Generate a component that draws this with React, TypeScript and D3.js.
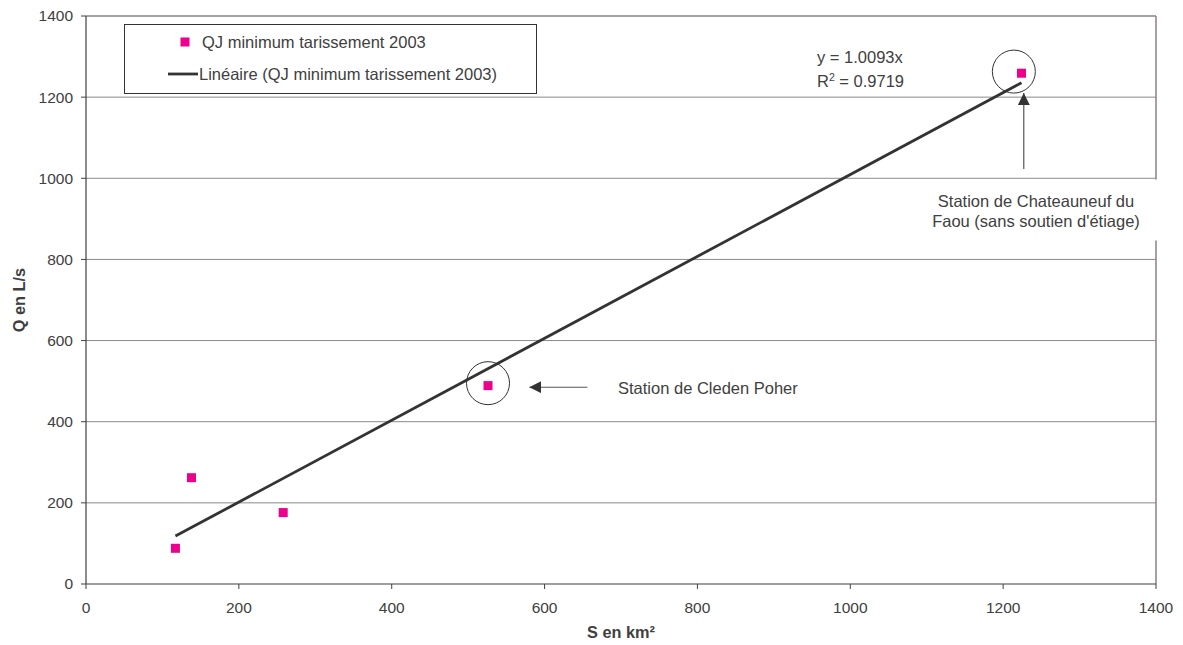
import React from "react";
import * as d3 from "d3";

const surfaces = [117, 138, 258, 526, 1224];
const flows = [88, 262, 176, 489, 1259];
const xTicks = [0, 200, 400, 600, 800, 1000, 1200, 1400];
const yTicks = [0, 200, 400, 600, 800, 1000, 1200, 1400];
const slope = 1.0093;
const r2 = 0.9719;
const seriesName = "QJ minimum tarissement 2003";
const trendName = "Linéaire (QJ minimum tarissement 2003)";
const annotations = [
  { cx: 526, cy: 495, ax1: 656, ay1: 485, ax2: 580, ay2: 485, lines: ["Station de Cleden Poher"], tx: 618, ty: 394, anchor: "start" },
  { cx: 1214, cy: 1263, ax1: 1227, ay1: 1023, ax2: 1227, ay2: 1210, lines: ["Station de Chateauneuf du", "Faou (sans soutien d'étiage)"], tx: 1036, ty: 206.5, anchor: "middle" },
];

const W = 1183, H = 645;
const font = "'Liberation Sans', Arial, Helvetica, sans-serif";
const txt = "#404040";
const fs = 16.5;

export default function App() {
  const x = d3.scaleLinear().domain([0, 1400]).range([86, 1156]);
  const y = d3.scaleLinear().domain([0, 1400]).range([584, 16]);
  const xMin = d3.min(surfaces) as number;
  const xMax = d3.max(surfaces) as number;
  const line = d3.line<number>().x((d) => x(d)).y((d) => y(slope * d));
  const ms = 9;
  return (
    <svg width={W} height={H} style={{ position: "absolute", left: 0, top: 0, background: "#fff" }} fontFamily={font}>
      <defs>
        <marker id="ah" viewBox="0 0 12 12" refX="12" refY="6" markerWidth="12" markerHeight="12" markerUnits="userSpaceOnUse" orient="auto">
          <path d="M0,0 L12,6 L0,12 Z" fill="#333" />
        </marker>
      </defs>
      {yTicks.filter((t) => t > 0 && t < 1400).map((t) => (
        <line key={t} x1={x(0)} x2={x(1400)} y1={y(t)} y2={y(t)} stroke="#8a8a8a" strokeWidth={1} />
      ))}
      <line x1={x(0)} x2={x(1400)} y1={y(1400)} y2={y(1400)} stroke="#8f8080" strokeWidth={1.5} />
      <line x1={x(1400)} x2={x(1400)} y1={y(1400)} y2={y(0)} stroke="#8f8080" strokeWidth={1.5} />
      <line x1={x(0)} x2={x(0)} y1={y(1400)} y2={y(0)} stroke="#404040" strokeWidth={1.2} />
      <line x1={x(0)} x2={x(1400)} y1={y(0)} y2={y(0)} stroke="#404040" strokeWidth={1.2} />
      {yTicks.map((t) => (
        <g key={"y" + t}>
          <line x1={x(0) - 5} x2={x(0)} y1={y(t)} y2={y(t)} stroke="#404040" />
          <text x={73} y={y(t)} dy="0.35em" textAnchor="end" fontSize={15.5} fill={txt}>{t}</text>
        </g>
      ))}
      {xTicks.map((t) => (
        <g key={"x" + t}>
          <line x1={x(t)} x2={x(t)} y1={y(0)} y2={y(0) + 5} stroke="#404040" />
          <text x={x(t)} y={613} textAnchor="middle" fontSize={15.5} fill={txt}>{t}</text>
        </g>
      ))}
      <text x={621} y={638} textAnchor="middle" fontSize={16.3} fontWeight="bold" fill={txt}>S en km²</text>
      <text transform={`translate(24.5,300) rotate(-90)`} textAnchor="middle" fontSize={16.3} fontWeight="bold" fill={txt}>Q en L/s</text>
      <path d={line([xMin, xMax]) || ""} fill="none" stroke="#333" strokeWidth={2.8} />
      {surfaces.map((s, i) => (
        <rect key={i} x={x(s) - ms / 2} y={y(flows[i]) - ms / 2} width={ms} height={ms} fill="#ec008c" />
      ))}
      {annotations.map((a, i) => (
        <g key={"a" + i}>
          <circle cx={x(a.cx)} cy={y(a.cy)} r={21.5} fill="none" stroke="#333" strokeWidth={1} />
          {i === 1 && <rect x={925} y={179.5} width={235} height={61} fill="#fff" />}
          <line x1={x(a.ax1)} y1={y(a.ay1)} x2={x(a.ax2)} y2={y(a.ay2)} stroke="#555" strokeWidth={1.2} markerEnd="url(#ah)" />
          {a.lines.map((l, j) => (
            <text key={j} x={a.tx} y={a.ty + j * 20.5} textAnchor={a.anchor as any} fontSize={fs} fill={txt}>{l}</text>
          ))}
        </g>
      ))}
      <text x={817} y={63} fontSize={fs} fill={txt}>{`y = ${slope}x`}</text>
      <text x={817} y={87} fontSize={fs} fill={txt}>
        R<tspan dy={-6} fontSize={10.5}>2</tspan><tspan dy={6}>{` = ${r2}`}</tspan>
      </text>
      <rect x={124.5} y={24.5} width={412} height={69} fill="#fff" stroke="#333" strokeWidth={1} />
      <rect x={185 - ms / 2} y={42 - ms / 2} width={ms} height={ms} fill="#ec008c" />
      <text x={202} y={47.5} fontSize={fs} fill={txt}>{seriesName}</text>
      <line x1={168} x2={198} y1={74} y2={74} stroke="#333" strokeWidth={2.8} />
      <text x={199} y={79.5} fontSize={fs} fill={txt}>{trendName}</text>
    </svg>
  );
}
